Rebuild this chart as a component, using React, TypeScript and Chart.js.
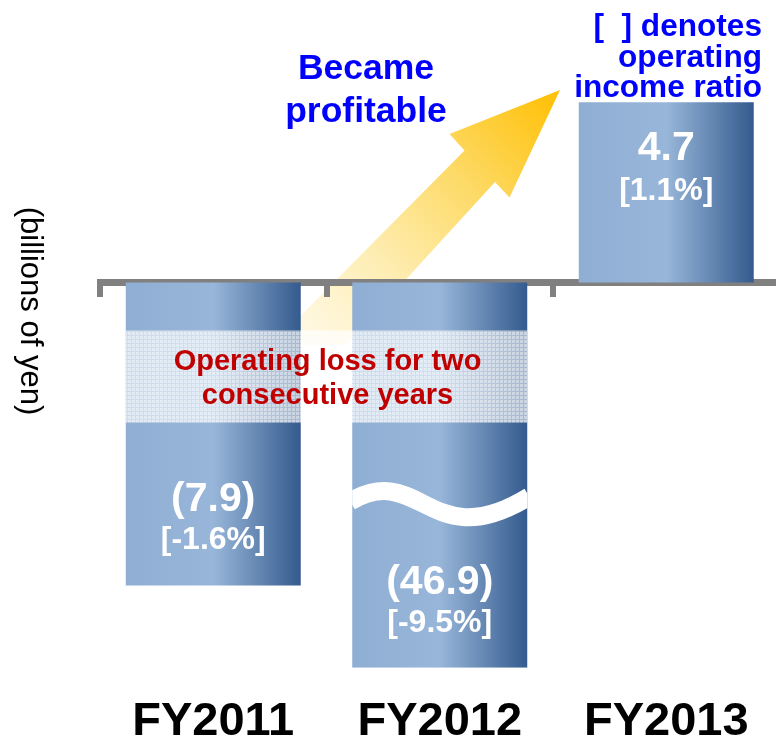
import React, { useEffect, useRef } from 'react';
import { Chart, registerables } from 'chart.js';

Chart.register(...registerables);

// ---- data ----
const categories = ['FY2011', 'FY2012', 'FY2013'];
const operatingIncome = [-7.9, -46.9, 4.7]; // billions of yen
const operatingIncomeRatio = [-1.6, -9.5, 1.1]; // %
// bar lengths as drawn: the FY2012 bar is broken (not to scale)
const drawnBarValues = [-7.9, -10.05, 4.7];
const yMin = -10.05;
const yMax = 7.37;

const bandText = ['Operating loss for two', 'consecutive years'];
const arrowText = ['Became', 'profitable'];
const noteText = ['[  ] denotes', 'operating', 'income ratio'];
const unitText = '(billions of yen)';

const FONT = '"Liberation Sans", Arial, Helvetica, sans-serif';
const CAT_PCT = 0.7726;

function fmtValue(v: number) {
  return v < 0 ? `(${Math.abs(v).toFixed(1)})` : v.toFixed(1);
}
function fmtRatio(r: number) {
  return `[${r.toFixed(1)}%]`;
}

function barGradient(c: any) {
  const chart = c.chart;
  const { ctx, chartArea, scales } = chart;
  if (!chartArea || !scales.x || c.type !== 'data') return '#95B3D7';
  const x = scales.x.getPixelForValue(c.dataIndex);
  const w = (scales.x.width / categories.length) * CAT_PCT;
  const g = ctx.createLinearGradient(x - w / 2, 0, x + w / 2, 0);
  g.addColorStop(0, '#8FAED3');
  g.addColorStop(0.5, '#98B6D9');
  g.addColorStop(1, '#345B8E');
  return g;
}

function makeBandPattern(ctx: CanvasRenderingContext2D) {
  const p = document.createElement('canvas');
  p.width = 4;
  p.height = 4;
  const pc = p.getContext('2d')!;
  pc.fillStyle = 'rgba(255,255,255,0.74)';
  pc.fillRect(0, 0, 4, 4);
  pc.clearRect(0, 3, 4, 1);
  pc.clearRect(3, 0, 1, 4);
  pc.fillStyle = 'rgba(255,255,255,0.56)';
  pc.fillRect(0, 3, 4, 1);
  pc.fillRect(3, 0, 1, 3);
  return ctx.createPattern(p, 'repeat');
}

const decor = {
  id: 'decor',
  beforeDraw(chart: any) {
    const ctx: CanvasRenderingContext2D = chart.ctx;
    // rising arrow
    ctx.save();
    const pts = [
      [560, 90],
      [509.5, 197.5],
      [495, 182],
      [346, 345],
      [271.6, 345],
      [464.5, 150.5],
      [449.5, 134],
    ];
    ctx.beginPath();
    pts.forEach(([x, y], i) => (i ? ctx.lineTo(x, y) : ctx.moveTo(x, y)));
    ctx.closePath();
    const g = ctx.createLinearGradient(310, 330, 548, 102);
    g.addColorStop(0, '#FFF8E1');
    g.addColorStop(0.3, '#FEEDB2');
    g.addColorStop(0.65, '#FDDA66');
    g.addColorStop(1, '#FFC20E');
    ctx.fillStyle = g;
    ctx.fill();
    ctx.restore();
  },
  afterDatasetsDraw(chart: any) {
    const ctx: CanvasRenderingContext2D = chart.ctx;
    const meta = chart.getDatasetMeta(0);
    const bars = meta.data;
    const zeroPx = chart.scales.y.getPixelForValue(0);

    // wave break on FY2012 bar
    const b1 = bars[1];
    const L = b1.x - b1.width / 2;
    const W = b1.width;
    ctx.save();
    ctx.beginPath();
    ctx.rect(L, zeroPx, W, b1.y - zeroPx);
    ctx.clip();
    ctx.beginPath();
    ctx.moveTo(L - 2, zeroPx + 219);
    ctx.bezierCurveTo(L + 68, zeroPx + 178, L + 78, zeroPx + 275, L + W + 2, zeroPx + 214);
    ctx.strokeStyle = '#FFFFFF';
    ctx.lineWidth = 18;
    ctx.stroke();
    ctx.restore();

    // value labels
    ctx.save();
    ctx.fillStyle = '#FFFFFF';
    ctx.textAlign = 'center';
    ctx.textBaseline = 'alphabetic';
    bars.forEach((el: any, i: number) => {
      const v = operatingIncome[i];
      let y1: number, y2: number;
      if (drawnBarValues[i] >= 0) {
        y1 = el.y + 58;
        y2 = el.y + 98;
      } else {
        y1 = el.y - 74;
        y2 = el.y - 36;
      }
      ctx.font = `bold 41px ${FONT}`;
      ctx.fillText(fmtValue(v), el.x, y1);
      ctx.font = `bold 32px ${FONT}`;
      ctx.fillText(fmtRatio(operatingIncomeRatio[i]), el.x, y2);
    });
    ctx.restore();

    // band across the two loss years
    const b0 = bars[0];
    const bx0 = b0.x - b0.width / 2;
    const bx1 = b1.x + b1.width / 2;
    const by0 = zeroPx + 48;
    const by1 = zeroPx + 140;
    ctx.save();
    ctx.fillStyle = makeBandPattern(ctx) as any;
    ctx.fillRect(bx0, by0, bx1 - bx0, by1 - by0);
    ctx.fillStyle = '#C00000';
    ctx.font = `bold 29px ${FONT}`;
    ctx.textAlign = 'center';
    ctx.textBaseline = 'alphabetic';
    const cx = (bx0 + bx1) / 2 + 1;
    ctx.fillText(bandText[0], cx, by0 + 39);
    ctx.fillText(bandText[1], cx, by0 + 73);
    ctx.restore();
  },
  afterDraw(chart: any) {
    const ctx: CanvasRenderingContext2D = chart.ctx;
    ctx.save();
    ctx.fillStyle = '#0000FF';
    ctx.textBaseline = 'alphabetic';
    ctx.font = `bold 35.5px ${FONT}`;
    ctx.textAlign = 'center';
    ctx.fillText(arrowText[0], 366, 78.5);
    ctx.fillText(arrowText[1], 366, 122);

    ctx.font = `bold 31.6px ${FONT}`;
    ctx.textAlign = 'right';
    ctx.fillText(noteText[0], 762, 36);
    ctx.fillText(noteText[1], 762, 66.5);
    ctx.fillText(noteText[2], 762, 97);

    ctx.fillStyle = '#000000';
    ctx.font = `31px ${FONT}`;
    ctx.textAlign = 'center';
    ctx.textBaseline = 'middle';
    ctx.translate(30, 311);
    ctx.rotate(Math.PI / 2);
    ctx.fillText(unitText, 0, 0);
    ctx.restore();
  },
};

export default function App() {
  const ref = useRef<HTMLCanvasElement>(null);
  useEffect(() => {
    const canvas = ref.current!;
    const chart = new Chart(canvas, {
      type: 'bar',
      data: {
        labels: categories,
        datasets: [
          {
            data: drawnBarValues,
            backgroundColor: barGradient as any,
            borderWidth: 0,
            barPercentage: 1,
            categoryPercentage: CAT_PCT,
            xAxisID: 'x',
            yAxisID: 'y',
          },
        ],
      },
      options: {
        animation: false,
        responsive: false,
        maintainAspectRatio: false,
        devicePixelRatio: 1,
        layout: { padding: { left: 100, right: 0.5, top: 0, bottom: -26 } },
        plugins: { legend: { display: false }, tooltip: { enabled: false } },
        scales: {
          y: { display: false, min: yMin, max: yMax },
          x: {
            type: 'category',
            position: { y: 0 } as any,
            offset: true,
            z: 1,
            ticks: { display: false },
            grid: {
              offset: true,
              drawOnChartArea: false,
              drawTicks: true,
              tickLength: 11,
              tickWidth: 6,
              tickColor: '#808080',
              lineWidth: 6,
              color: '#808080',
            },
            border: { display: true, color: '#808080', width: 7 },
          },
          x2: {
            type: 'category',
            labels: categories,
            position: 'bottom',
            offset: true,
            grid: { display: false },
            border: { display: false },
            ticks: {
              color: '#000000',
              padding: 18.4,
              maxRotation: 0,
              autoSkip: false,
              font: { family: FONT, size: 47, weight: 'bold', lineHeight: 1.2 },
            },
          },
        },
      },
      plugins: [decor],
    });
    return () => chart.destroy();
  }, []);
  return (
    <div
      style={{
        position: 'fixed',
        left: 0,
        top: 0,
        width: 776,
        height: 743,
        overflow: 'hidden',
        background: '#FFFFFF',
      }}
    >
      <canvas ref={ref} width={780} height={743} style={{ width: 780, height: 743, display: 'block' }} />
    </div>
  );
}
